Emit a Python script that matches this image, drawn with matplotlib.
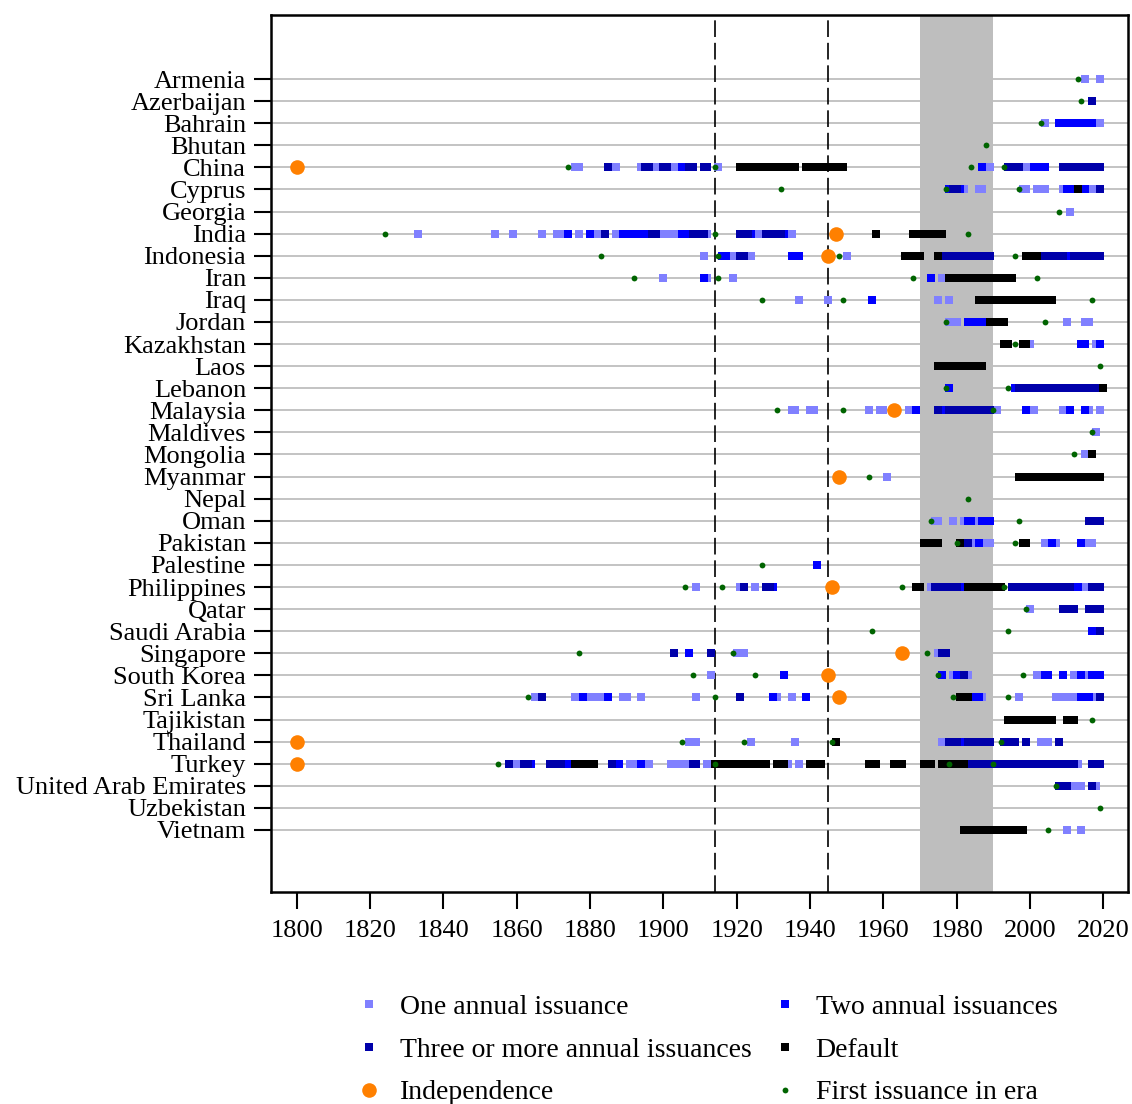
import matplotlib
matplotlib.use("Agg")
import matplotlib.pyplot as plt
from matplotlib.lines import Line2D

plt.rcParams['font.family'] = ['Liberation Serif', 'DejaVu Serif']

countries = ["Armenia", "Azerbaijan", "Bahrain", "Bhutan", "China", "Cyprus", "Georgia",
             "India", "Indonesia", "Iran", "Iraq", "Jordan", "Kazakhstan", "Laos", "Lebanon",
             "Malaysia", "Maldives", "Mongolia", "Myanmar", "Nepal", "Oman", "Pakistan",
             "Palestine", "Philippines", "Qatar", "Saudi Arabia", "Singapore", "South Korea",
             "Sri Lanka", "Tajikistan", "Thailand", "Turkey", "United Arab Emirates",
             "Uzbekistan", "Vietnam"]

one_issuance = {
    "Armenia": "2015 2019",
    "Bahrain": "2004 2019",
    "China": "1876-1877 1887 1894 1898-1899 1903 1915 1989 1999-2000",
    "Cyprus": "1982 1986-1987 1998-1999 2002-2004 2009 2017",
    "Georgia": "2011",
    "India": "1833 1854 1859 1867 1871-1872 1877 1882 1887 1900-1903 1912 1926 1935",
    "Indonesia": "1911 1918-1919 1923-1924 1950 2003 2006 2010",
    "Iran": "1900 1912 1919 1976",
    "Iraq": "1937 1945 1975 1978",
    "Jordan": "1978-1980 2010 2015-2016",
    "Kazakhstan": "2000 2018",
    "Malaysia": "1935-1936 1940-1941 1956 1959-1960 1967 1991 2000-2001 2009 2016 2019",
    "Maldives": "2018",
    "Mongolia": "2015",
    "Myanmar": "1961",
    "Oman": "1974-1975 1979 1982 1985",
    "Pakistan": "1984 1987-1989 2004 2007 2015 2017",
    "Philippines": "1909 1921 1925 1973 2014-2016",
    "Qatar": "2000",
    "Singapore": "1920-1922 1975",
    "South Korea": "1913 1979 1983 2002 2012 2016",
    "Sri Lanka": "1865 1876 1880-1883 1889-1890 1894 1909 1931 1935 1987 1997 2007-2012 2017",
    "Thailand": "1907-1909 1924 1936 1976 2003-2005",
    "Turkey": "1860 1891-1892 1896 1902-1906 1912 1934 1937 2013",
    "United Arab Emirates": "2011-2014 2018",
    "Vietnam": "2010 2014",
}

two_issuances = {
    "Bahrain": "2008-2017",
    "China": "1905 1987 2001-2004",
    "Cyprus": "1978 1981 2010-2011 2015",
    "India": "1874 1880 1889-1895 1905-1906 1924 1933",
    "Indonesia": "1916-1917 1935-1937 2011",
    "Iran": "1911 1973",
    "Iraq": "1957",
    "Jordan": "1983 1985-1987",
    "Kazakhstan": "2014-2015 2019",
    "Lebanon": "1978 1996",
    "Malaysia": "1969 1976-1977 1980 1999 2011 2015",
    "Oman": "1983-1984 1987-1989",
    "Pakistan": "1986 2006 2014",
    "Palestine": "1942",
    "Philippines": "1930 1975 1977 1981 1996 2012-2013",
    "Qatar": "2018",
    "Saudi Arabia": "2017-2018",
    "Singapore": "1907",
    "South Korea": "1933 1976 1980 2004-2005 2009 2014 2017-2019",
    "Sri Lanka": "1878 1885 1930 1939 1985-1986 2014-2016",
    "Thailand": "1982 1995",
    "Turkey": "1864 1870 1874 1888 1894 2008 2011",
}

three_plus = {
    "Azerbaijan": "2017",
    "China": "1885 1895-1896 1900-1901 1907-1908 1911-1912 1994-1997 2009-2019",
    "Cyprus": "1979-1980 2019",
    "India": "1884 1897-1898 1908-1911 1921-1923 1928-1932",
    "Indonesia": "1921-1922 1977-1989 2004-2005 2007-2009 2012-2019",
    "Lebanon": "1997-2019",
    "Malaysia": "1975 1978-1979 1981-1989",
    "Oman": "2016-2019",
    "Pakistan": "1983",
    "Philippines": "1922 1928-1929 1974 1976 1978-1980 1995 1997-2011 2017-2019",
    "Qatar": "2009 2011-2012 2016-2017 2019",
    "Saudi Arabia": "2019",
    "Singapore": "1903 1913 1976-1977",
    "South Korea": "1982",
    "Sri Lanka": "1867 1921 2019",
    "Thailand": "1978-1980 1983-1989 1993-1994 1996 1999 2008",
    "Turkey": "1858 1862-1863 1869 1871-1872 1886 1908-1909 1984-2007 2009-2010 2012 2017-2019",
    "United Arab Emirates": "2008-2010 2017",
}

default = {
    "China": "1921-1936 1939-1949",
    "Cyprus": "2013",
    "India": "1958 1968-1976",
    "Indonesia": "1966-1970 1975 1999-2002",
    "Iran": "1978-1995",
    "Iraq": "1986-2006",
    "Jordan": "1989-1993",
    "Kazakhstan": "1993-1994 1998-1999",
    "Laos": "1975-1987",
    "Lebanon": "2020",
    "Mongolia": "2017",
    "Myanmar": "1997-2019",
    "Pakistan": "1971-1975 1981 1998-1999",
    "Philippines": "1969-1970 1983-1992",
    "Sri Lanka": "1981-1983",
    "Tajikistan": "1994-2006 2010-2012",
    "Thailand": "1947",
    "Turkey": "1876-1881 1914-1928 1931-1933 1940-1943 1956-1958 1963-1965 1971-1973 1976-1982",
    "Vietnam": "1982-1998",
}

independence = {
    "China": "1800", "India": "1947", "Indonesia": "1945", "Malaysia": "1963",
    "Myanmar": "1948", "Philippines": "1946", "Singapore": "1965", "South Korea": "1945",
    "Sri Lanka": "1948", "Thailand": "1800", "Turkey": "1800",
}

first_issuance = {
    "Armenia": "2013", "Azerbaijan": "2014", "Bahrain": "2003", "Bhutan": "1988",
    "China": "1874 1914 1984 1993", "Cyprus": "1932 1977 1997", "Georgia": "2008",
    "India": "1824 1914 1983", "Indonesia": "1883 1915 1948 1996",
    "Iran": "1892 1915 1968 2002", "Iraq": "1927 1949 2017", "Jordan": "1977 2004",
    "Kazakhstan": "1996", "Laos": "2019", "Lebanon": "1977 1994",
    "Malaysia": "1931 1949 1990", "Maldives": "2017", "Mongolia": "2012",
    "Myanmar": "1956", "Nepal": "1983", "Oman": "1973 1997", "Pakistan": "1980 1996",
    "Palestine": "1927", "Philippines": "1906 1916 1965 1993", "Qatar": "1999",
    "Saudi Arabia": "1957 1994", "Singapore": "1877 1919 1972",
    "South Korea": "1908 1925 1975 1998", "Sri Lanka": "1863 1914 1979 1994",
    "Tajikistan": "2017", "Thailand": "1905 1922 1946 1992",
    "Turkey": "1855 1914 1978 1990", "United Arab Emirates": "2007",
    "Uzbekistan": "2019", "Vietnam": "2005",
}

era_lines = [1914, 1945]
shaded_era = (1970, 1990)
xticks = list(range(1800, 2021, 20))


def expand(spec):
    out = []
    for tok in spec.split():
        if "-" in tok:
            a, b = tok.split("-")
            out.extend(range(int(a), int(b) + 1))
        else:
            out.append(int(tok))
    return out


def points(table):
    xs, ys = [], []
    for c, spec in table.items():
        for yr in expand(spec):
            xs.append(yr)
            ys.append(countries.index(c))
    return xs, ys


fig = plt.figure(figsize=(11.32, 11.04), dpi=100)
ax = fig.add_axes([271 / 1132, 1 - 892 / 1104, (1128 - 271) / 1132, (892 - 15) / 1104])

ypos = list(range(len(countries)))
for y in ypos:
    ax.axhline(y, color='#BEBEBE', lw=1.3, zorder=1)
ax.axvspan(shaded_era[0], shaded_era[1], color='#BEBEBE', lw=0, zorder=2)
for xv in era_lines:
    ax.axvline(xv, color='black', lw=1.2, dashes=(10, 3.5), zorder=2.5)

sq = 5.6
styles = [
    (one_issuance, '#8080FF', 's', sq, 3, "One annual issuance"),
    (two_issuances, '#0000FF', 's', sq, 3.1, "Two annual issuances"),
    (three_plus, '#0000AA', 's', sq, 3.2, "Three or more annual issuances"),
    (default, '#000000', 's', sq, 3.3, "Default"),
    (independence, '#FF8000', 'o', 10.5, 4, "Independence"),
    (first_issuance, '#006400', 'o', 4.2, 5, "First issuance in era"),
]
handles = {}
for table, col, mk, ms, z, lab in styles:
    xs, ys = points(table)
    ax.plot(xs, ys, ls='none', marker=mk, ms=ms, mew=0, color=col, zorder=z)
    handles[lab] = Line2D([], [], ls='none', marker=mk, ms=ms, mew=0, color=col)

ax.set_xlim(1793, 2026.7)
ax.set_ylim(36.81, -2.9)
ax.set_yticks(ypos)
ax.set_yticklabels(countries)
ax.set_xticks(xticks)
ax.tick_params(axis='both', direction='out', length=12, width=1.5, labelsize=19, pad=6)
ax.tick_params(axis='x', pad=8)
for s in ax.spines.values():
    s.set_linewidth(1.8)

order = ["One annual issuance", "Three or more annual issuances", "Independence",
         "Two annual issuances", "Default", "First issuance in era"]
fig.legend([handles[k] for k in order], order, loc='center', bbox_to_anchor=(0.624, 0.049),
           ncol=2, frameon=False, fontsize=20, handlelength=1.0, handletextpad=0.6,
           columnspacing=0.7, labelspacing=0.62)

fig.savefig("out.png", dpi=100)
